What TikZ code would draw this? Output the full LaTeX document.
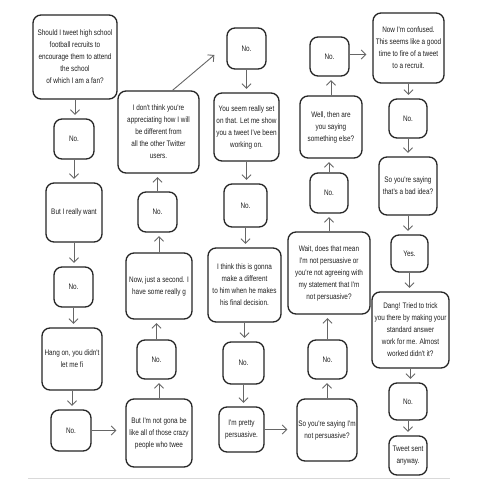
\documentclass[tikz,border=0pt]{standalone}
\usepackage{fontspec}
\newfontfamily\fs{Liberation Sans}[FakeStretch=0.8]
\usetikzlibrary{arrows.meta}
\tikzset{
  box/.style={draw=black!85, line width=1.3pt, rounded corners=8pt, fill=white,
    align=center, inner sep=0pt, font=\fs\fontsize{8}{12}\selectfont, text=black!88},
  wh/.style 2 args={minimum width=#1pt, minimum height=#2pt},
  arr/.style={draw=black!60, line width=0.9pt, -{Straight Barb[length=4.5pt,width=9pt,line width=0.9pt]}, shorten >=3.5pt},
  harr/.style={arr, shorten >=9pt}
}
\begin{document}
\begin{tikzpicture}[x=1pt,y=-1pt]
\fill[white] (0,0) rectangle (480,480);
\useasboundingbox (0,0) rectangle (480,480);
% column 1
\node[box,wh={84}{84}] (q) at (75,57) {Should I tweet high school\\football recruits to\\encourage them to attend\\the school\\of which I am a fan?};
\node[box,wh={40}{40}] (no1) at (74,139) {No.};
\node[box,wh={56}{59}] (want) at (74,212.5) {But I really want};
\node[box,wh={39}{40}] (no2) at (73.5,287) {No.};
\node[box,wh={60}{62}] (hang) at (72,359) {Hang on, you didn't\\let me fi};
\node[box,wh={40}{41}] (no3) at (71,430.5) {No.};
% column 2
\node[box,wh={66}{68}] (gona) at (159,433) {But I'm not gona be\\like all of those crazy\\people who twee};
\node[box,wh={39}{39}] (no4) at (156.5,359.5) {No.};
\node[box,wh={66}{66}] (second) at (159,286) {Now, just a second. I\\have some really g};
\node[box,wh={39}{40}] (no5) at (157.5,212) {No.};
\node[box,wh={81}{82}] (think) at (158.5,132) {I don't think you're\\appreciating how I will\\be different from\\all the other Twitter\\users.};
% column 3
\node[box,wh={39}{41}] (no6) at (246.5,48.5) {No.};
\node[box,wh={65}{68}] (seem) at (246.5,127) {You seem really set\\on that. Let me show\\you a tweet I've been\\working on.};
\node[box,wh={43}{43}] (no7) at (245.5,205.5) {No.};
\node[box,wh={73}{74}] (gonna) at (244.5,285) {I think this is gonna\\make a different\\to him when he makes\\his final decision.};
\node[box,wh={41}{42}] (no8) at (243.5,363) {No.};
\node[box,wh={45}{45}] (pretty) at (241.5,429.5) {I'm pretty\\persuasive.};
% column 4
\node[box,wh={60}{62}] (sosay) at (327,430) {So you're saying I'm\\not persuasive?};
\node[box,wh={39}{39}] (no9) at (327.5,359.5) {No.};
\node[box,wh={82}{82}] (wait) at (329,273) {Wait, does that mean\\I'm not persuasive or\\you're not agreeing with\\my statement that I'm\\not persuasive?};
\node[box,wh={38}{40}] (no10) at (329,193) {No.};
\node[box,wh={62}{62}] (well) at (331,127) {Well, then are\\you saying\\something else?};
\node[box,wh={39}{39}] (no11) at (329.5,56.5) {No.};
% column 5
\node[box,wh={71}{70}] (confused) at (408.5,48) {Now I'm confused.\\This seems like a good\\time to fire of a tweet\\to a recruit.};
\node[box,wh={38}{39}] (no12) at (408,118.5) {No.};
\node[box,wh={58}{58}] (bad) at (408,186) {So you're saying\\that's a bad idea?};
\node[box,wh={37}{37}] (yes) at (409.5,253.5) {Yes.};
\node[box,wh={77}{76}] (dang) at (410.5,330) {Dang! Tried to trick\\you there by making your\\standard answer\\work for me. Almost\\worked didn't it?};
\node[box,wh={38}{37}] (no13) at (408,401.5) {No.};
\node[box,wh={38}{39}] (sent) at (408,455.5) {Tweet sent\\anyway.};
% arrows column 1 (down)
\draw[arr] (q.south) -- (q.south |- no1.north);
\draw[arr] (no1.south) -- (no1.south |- want.north);
\draw[arr] (want.south) -- (want.south |- no2.north);
\draw[arr] (no2.south) -- (no2.south |- hang.north);
\draw[arr] (hang.south) -- (hang.south |- no3.north);
\draw[harr] (no3.east) -- (no3.east -| gona.west);
% column 2 (up)
\draw[arr] (gona.north) -- (gona.north |- no4.south);
\draw[arr] (no4.north) -- (no4.north |- second.south);
\draw[arr] (second.north) -- (second.north |- no5.south);
\draw[arr] (no5.north) -- (no5.north |- think.south);
\draw[arr, shorten >=0pt] ([xshift=14pt]think.north) -- ([shift={(-12pt,-6.5pt)}]no6.west);
% column 3 (down)
\draw[arr] (no6.south) -- (no6.south |- seem.north);
\draw[arr] (seem.south) -- (seem.south |- no7.north);
\draw[arr] (no7.south) -- (no7.south |- gonna.north);
\draw[arr] (gonna.south) -- (gonna.south |- no8.north);
\draw[arr] (no8.south) -- (no8.south |- pretty.north);
\draw[harr] (pretty.east) -- (pretty.east -| sosay.west);
% column 4 (up)
\draw[arr] (sosay.north) -- (sosay.north |- no9.south);
\draw[arr] (no9.north) -- (no9.north |- wait.south);
\draw[arr] (wait.north) -- (wait.north |- no10.south);
\draw[arr] (no10.north) -- (no10.north |- well.south);
\draw[arr] (well.north) -- (well.north |- no11.south);
\draw[arr, shorten >=6pt] ([yshift=2pt]no11.east) -- ([yshift=2pt]no11.east -| confused.west);
% column 5 (down)
\draw[arr] (confused.south) -- (confused.south |- no12.north);
\draw[arr] (no12.south) -- (no12.south |- bad.north);
\draw[arr] (bad.south) -- (bad.south |- yes.north);
\draw[arr] (yes.south) -- (yes.south |- dang.north);
\draw[arr] (dang.south) -- (dang.south |- no13.north);
\draw[arr] (no13.south) -- (no13.south |- sent.north);
% faint bottom rule
\coordinate (rl) at (28,478);
\coordinate (rr) at (450,478);
\draw[black!15, line width=0.8pt] (rl) -- (rr);
\end{tikzpicture}
\end{document}
